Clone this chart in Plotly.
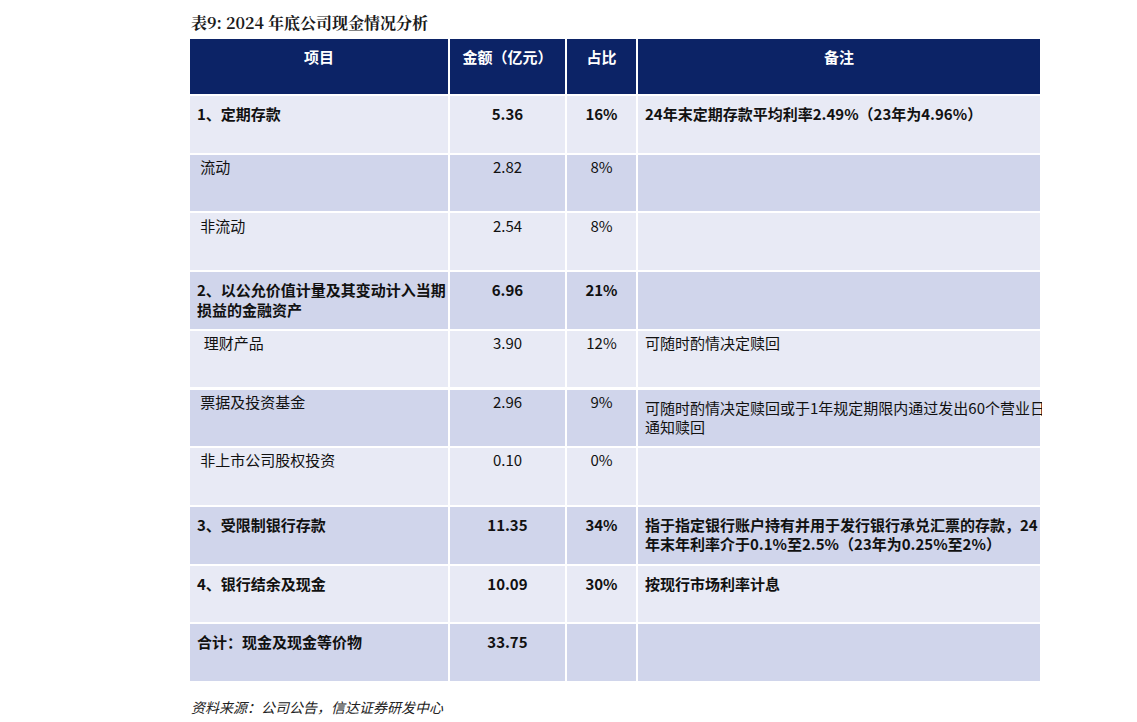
import plotly.graph_objects as go

headers = ["项目", "金额（亿元）", "占比", "备注"]
items = ["1、定期存款", "流动", "非流动", "2、以公允价值计量及其变动计入当期<br>损益的金融资产",
         "理财产品", "票据及投资基金", "非上市公司股权投资", "3、受限制银行存款", "4、银行结余及现金", "合计：现金及现金等价物"]
amounts = ["5.36", "2.82", "2.54", "6.96", "3.90", "2.96", "0.10", "11.35", "10.09", "33.75"]
shares = ["16%", "8%", "8%", "21%", "12%", "9%", "0%", "34%", "30%", ""]
notes = ["24年末定期存款平均利率2.49%（23年为4.96%）", "", "", "", "可随时酌情决定赎回",
         "可随时酌情决定赎回或于1年规定期限内通过发出60个营业日<br>通知赎回", "",
         "指于指定银行账户持有并用于发行银行承兑汇票的存款，24<br>年末年利率介于0.1%至2.5%（23年为0.25%至2%）",
         "按现行市场利率计息", ""]
bold = [True, False, False, True, False, False, False, True, True, True]
indent = ["", "\u00a0", "\u00a0", "", "\u00a0\u00a0", "\u00a0", "\u00a0", "", "", ""]

def fmt(vals, ind=None):
    out = []
    for i, v in enumerate(vals):
        s = (ind[i] if ind else "") + v
        out.append(f"<b>{s}</b>" if bold[i] and v else s)
    return out

W, H = 1137, 722
OFF = 8  # page body margin
def px(x): return (x - OFF) / W
def py(y): return 1 - (y - OFF) / H

fills = ["#e8eaf5" if i % 2 == 0 else "#d0d5eb" for i in range(len(items))]
font = "Noto Sans CJK SC"
fig = go.Figure(go.Table(
    columnwidth=[260, 117, 71, 404],
    domain=dict(x=[px(189), px(1041)], y=[py(682), py(38)]),
    header=dict(values=[f"<b>{h}</b>" for h in headers], fill_color="#0c2366",
                font=dict(color="white", size=15, family=font), align="center",
                height=57, line=dict(color="white", width=2)),
    cells=dict(values=[fmt(items, indent), fmt(amounts), fmt(shares), fmt(notes)],
               fill_color=[fills]*4, font=dict(color="#111111", size=15, family=font),
               align=["left", "center", "center", "left"], height=58.7,
               line=dict(color="white", width=2)),
))
fig.add_annotation(text="<b>表9: 2024 年底公司现金情况分析</b>", x=px(189), y=py(22),
                   xref="paper", yref="paper", xanchor="left", yanchor="middle", showarrow=False,
                   font=dict(size=16, color="#1a1a1a", family="Noto Serif CJK SC, " + font))
fig.add_annotation(text="<i>资料来源：公司公告，信达证券研发中心</i>", x=px(189), y=py(707),
                   xref="paper", yref="paper", xanchor="left", yanchor="middle", showarrow=False,
                   font=dict(size=14, color="#222222", family=font))
fig.update_layout(width=W, height=H, margin=dict(l=0, r=0, t=0, b=0),
                  paper_bgcolor="white", plot_bgcolor="white")
fig.write_html("out.html")
